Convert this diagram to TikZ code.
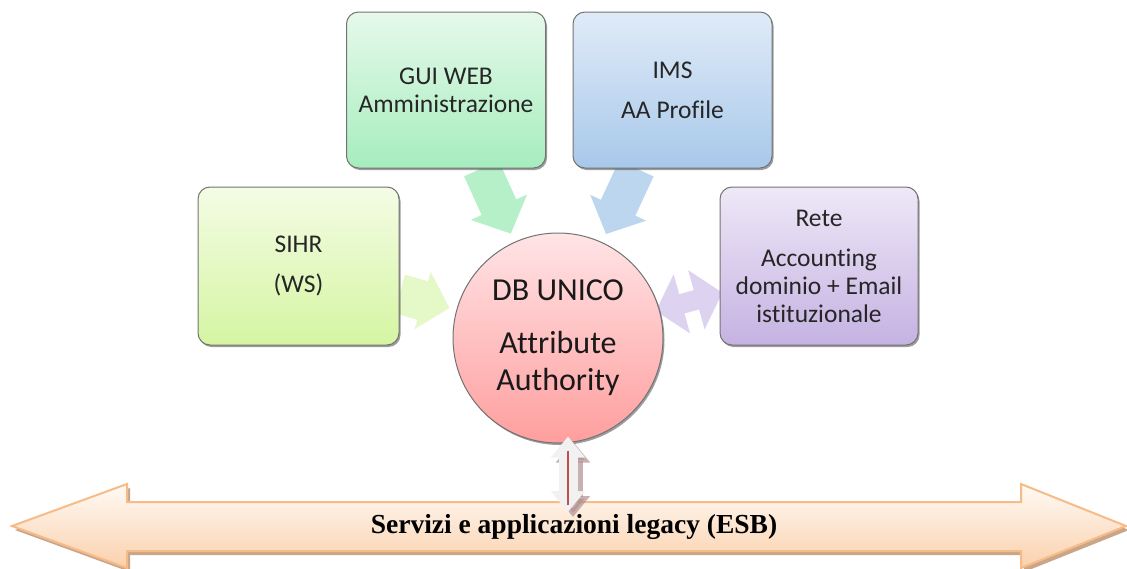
\documentclass[tikz,border=0pt]{standalone}
\usepackage{fontspec}
\setmainfont{Carlito}[Ligatures=NoCommon]
\newfontfamily\esbfont{Liberation Serif}
\usetikzlibrary{arrows.meta,shadows,calc}
\pgfdeclarelayer{bg}
\pgfsetlayers{bg,main}
\definecolor{guitop}{HTML}{E6F9EA}
\definecolor{guibot}{HTML}{A6EDBE}
\definecolor{imstop}{HTML}{E0EBF8}
\definecolor{imsbot}{HTML}{A8C8EA}
\definecolor{sihrtop}{HTML}{F4FCE5}
\definecolor{sihrbot}{HTML}{D5F5A2}
\definecolor{retetop}{HTML}{EEE8F7}
\definecolor{retebot}{HTML}{C5B2E2}
\definecolor{dbtop}{HTML}{FFE4E6}
\definecolor{dbbot}{HTML}{FF9E9E}
\definecolor{guiarr}{HTML}{B5F0C9}
\definecolor{imsarr}{HTML}{BDD6F0}
\definecolor{sihrarr}{HTML}{E5F8C8}
\definecolor{retearr}{HTML}{DDD3F0}
\definecolor{esbtop}{HTML}{FFFAF5}
\definecolor{esbbot}{HTML}{FAD0AC}
\definecolor{esbline}{HTML}{F7BB87}
\definecolor{esbshadow}{HTML}{C9A68A}
\definecolor{vshadow}{HTML}{B09090}
\definecolor{vfill}{HTML}{F1F1F1}
\definecolor{vred}{HTML}{C0504D}
\begin{document}
\begin{tikzpicture}[x=1pt,y=-1pt,
  box/.style={rectangle, rounded corners=12pt, draw=black!55, line width=1pt,
    minimum width=199pt, minimum height=156pt, inner sep=0pt, align=center,
    font=\fontsize{25.5}{28}\selectfont, text=black!85,
    drop shadow={shadow xshift=1.5pt, shadow yshift=-2pt, opacity=0.55, fill=black!70}},
  hub/.style={circle, draw=black!55, line width=1pt, minimum size=210pt, inner sep=0pt,
    align=center, font=\fontsize{32}{37}\selectfont, text=black!90,
    top color=dbtop, bottom color=dbbot,
    drop shadow={shadow xshift=1.5pt, shadow yshift=-2pt, opacity=0.55, fill=black!70}},
  bigarrow/.style={line width=38pt, -{Triangle[width=60pt,length=29pt]}},
  sidearrow/.style={line width=40pt, -{Triangle[width=58pt,length=28pt]}},
  duoarrow/.style={line width=20pt, {Triangle[width=60pt,length=27pt]}-{Triangle[width=60pt,length=27pt]}},
  varrow/.style={line width=19pt, {Triangle[width=33pt,length=21pt]}-{Triangle[width=33pt,length=21pt]}},
  esblabel/.style={font=\esbfont\bfseries\fontsize{27.5}{30}\selectfont, text=black, inner sep=0pt}
]
\useasboundingbox (0,0) rectangle (1127,568);

% boxes and hub
\node[box, top color=guitop, bottom color=guibot] (gui) at (446,90) {GUI WEB\\Amministrazione};
\node[box, top color=imstop, bottom color=imsbot] (ims) at (672.5,90) {IMS\\[12pt]AA Profile};
\node[box, top color=sihrtop, bottom color=sihrbot, minimum width=201pt, minimum height=158pt] (sihr) at (298.5,266) {SIHR\\[12pt](WS)};
\node[box, top color=retetop, bottom color=retebot, minimum width=198pt, minimum height=158pt] (rete) at (819,266) {Rete\\[12pt]Accounting\\dominio + Email\\istituzionale};
\node[hub] (db) at (558,338) {DB UNICO\\[16pt]Attribute\\Authority};

% connectors into the hub
\begin{pgfonlayer}{bg}
\draw[bigarrow, draw=guiarr, shorten >=9pt] (gui) -- (db);
\draw[bigarrow, draw=imsarr, shorten >=9pt] (ims) -- (db);
\draw[sidearrow, draw=sihrarr, shorten >=7pt] (sihr) -- (db);
\draw[duoarrow, draw=retearr, shorten <=-3pt, shorten >=-4pt] (rete) -- (db);
\end{pgfonlayer}

% ESB bus arrow
\fill[esbshadow, shift={(3,4)}] (12,526) -- (127,484) -- (127,502) -- (1021,502) -- (1021,484) -- (1126,526)
  -- (1021,568) -- (1021,551) -- (127,551) -- (127,568) -- cycle;
\path[top color=esbtop, bottom color=esbbot, draw=esbline, line width=2pt, line join=miter]
  (12,526) -- (127,484) -- (127,502) -- (1021,502) -- (1021,484) -- (1126,526)
  -- (1021,568) -- (1021,551) -- (127,551) -- (127,568) -- cycle;
\node[esblabel] (esb) at (574,527) {Servizi e applicazioni legacy (ESB)};

% vertical link hub <-> bus
\coordinate (vtop) at ($(db.south)+(10,-7)$);
\coordinate (vbot) at (568,512);
\draw[varrow, draw=vshadow, opacity=0.7] ([shift={(5,5)}]vtop) -- ([shift={(5,5)}]vbot);
\draw[varrow, draw=vfill] (vtop) -- (vbot);
\draw[vred, line width=1.5pt] ([shift={(0,14)}]vtop) -- ([shift={(0,-7)}]vbot);
\end{tikzpicture}
\end{document}
